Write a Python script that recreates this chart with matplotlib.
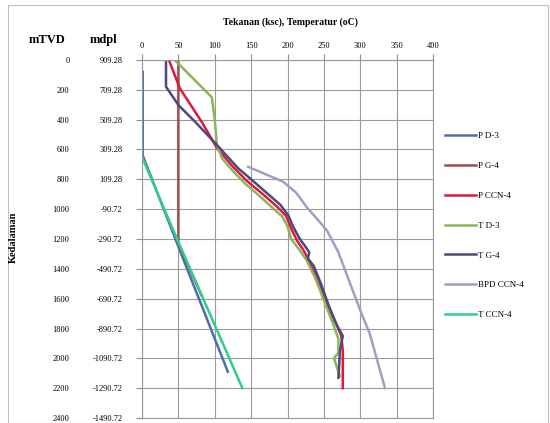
import numpy as np
import matplotlib
matplotlib.use('Agg')
import matplotlib.pyplot as plt
from matplotlib.patches import Rectangle

plt.rcParams['font.family'] = 'Liberation Serif'

#%% DATA

depth_ticks = [0, 200, 400, 600, 800, 1000, 1200, 1400, 1600, 1800, 2000, 2200, 2400]
elev_wellhead = 909.28  # mdpl of depth 0
x_ticks = [0, 50, 100, 150, 200, 250, 300, 350, 400]

# P D-3
pd3_val = [1, 1, 62, 118]
pd3_depth = [80, 640, 1400, 2090]

# P G-4
pg4_val = [50, 50, 82]
pg4_depth = [0, 1230, 1580]

# P CCN-4
pccn_val = [37, 52, 82, 103, 123, 144, 165, 185, 198, 205, 213, 222, 228, 237, 248, 258, 268, 274, 276, 276]
pccn_depth = [0, 190, 414, 590, 705, 810, 895, 980, 1045, 1130, 1210, 1275, 1330, 1430, 1560, 1680, 1780, 1850, 1950, 2200]

# T D-3
td3_val = [45, 96, 100, 103, 110, 126, 142, 160, 178, 193, 200, 205, 216, 226, 238, 250, 262, 270, 270, 264, 268, 272]
td3_depth = [0, 250, 400, 570, 660, 750, 830, 905, 985, 1050, 1115, 1200, 1270, 1340, 1460, 1610, 1760, 1870, 1960, 2000, 2060, 2120]

# T G-4
tg4_val = [33, 33, 50, 73, 103, 132, 150, 170, 190, 201, 208, 217, 226, 230, 228, 236, 246, 257, 268, 276, 272, 271, 270]
tg4_depth = [0, 179, 302, 414, 570, 725, 800, 885, 970, 1040, 1120, 1200, 1260, 1290, 1330, 1380, 1500, 1650, 1780, 1850, 1950, 2050, 2130]

# BPD CCN-4
bpd_val = [146, 194, 212, 226, 254, 270, 286, 300, 313, 334]
bpd_depth = [716, 816, 890, 984, 1141, 1290, 1498, 1678, 1834, 2200]

# T CCN-4
tccn_val = [0, 50, 138]
tccn_depth = [650, 1220, 2200]

#%% PLOT

fig = plt.figure(figsize=(5.5, 4.23), dpi=100)
ax = fig.add_axes([142/550, 5/423, 291/550, 358/423])

ax.plot(pd3_val, pd3_depth, color='#4a6fae', lw=1.8, label='P D-3')
ax.plot(pg4_val, pg4_depth, color='#a34a4a', lw=1.8, label='P G-4')
ax.plot(pccn_val, pccn_depth, color='#e3173a', lw=1.8, label='P CCN-4')
ax.plot(td3_val, td3_depth, color='#8ab659', lw=1.8, label='T D-3')
ax.plot(tg4_val, tg4_depth, color='#4b4a7e', lw=1.8, label='T G-4')
ax.plot(bpd_val, bpd_depth, color='#9da0c4', lw=1.8, label='BPD CCN-4')
ax.plot(tccn_val, tccn_depth, color='#2fcf8a', lw=1.8, label='T CCN-4')

ax.set_xlim(0, 400)
ax.set_ylim(2400, 0)
ax.xaxis.tick_top()
ax.set_xticks(x_ticks)
ax.set_yticks(depth_ticks)
ax.set_yticklabels(['%.2f' % (elev_wellhead - d) for d in depth_ticks])
ax.tick_params(axis='both', labelsize=6, color='#8c8c8c', length=4, width=0.8)
ax.tick_params(axis='y', pad=10)
ax.tick_params(axis='x', pad=3)
ax.grid(True, color='#9a9a9a', lw=0.8)
for s in ax.spines.values():
    s.set_color('#9a9a9a')
    s.set_linewidth(0.8)

# mTVD column
sec = ax.secondary_yaxis(-0.24)
sec.set_yticks(depth_ticks)
sec.set_yticklabels([str(d) for d in depth_ticks])
sec.tick_params(length=0, labelsize=6, pad=2)
sec.spines['left'].set_visible(False)

fig.text(47/550, 1 - 40/423, 'mTVD', fontsize=9, fontweight='bold', ha='center', va='center')
fig.text(103/550, 1 - 40/423, 'mdpl', fontsize=9, fontweight='bold', ha='center', va='center')
fig.text(290/550, 1 - 22/423, 'Tekanan (ksc), Temperatur (oC)', fontsize=7, fontweight='bold',
         ha='center', va='center')
fig.text(13/550, 1 - 237/423, 'Kedalaman', fontsize=7.5, fontweight='bold', rotation=90,
         ha='center', va='center')

ax.legend(loc='upper left', bbox_to_anchor=(445/550, 1 - 132/423), bbox_transform=fig.transFigure,
          frameon=False, fontsize=6.5, handlelength=3.4, handletextpad=0.2, labelspacing=2.38,
          borderpad=0, borderaxespad=0)

# outer chart frame
fig.patches.append(Rectangle((8/550, 0), 540/550, 1 - 5/423, transform=fig.transFigure,
                             fill=False, edgecolor='#bdbdbd', lw=0.8))

fig.savefig('out.png', dpi=100)
